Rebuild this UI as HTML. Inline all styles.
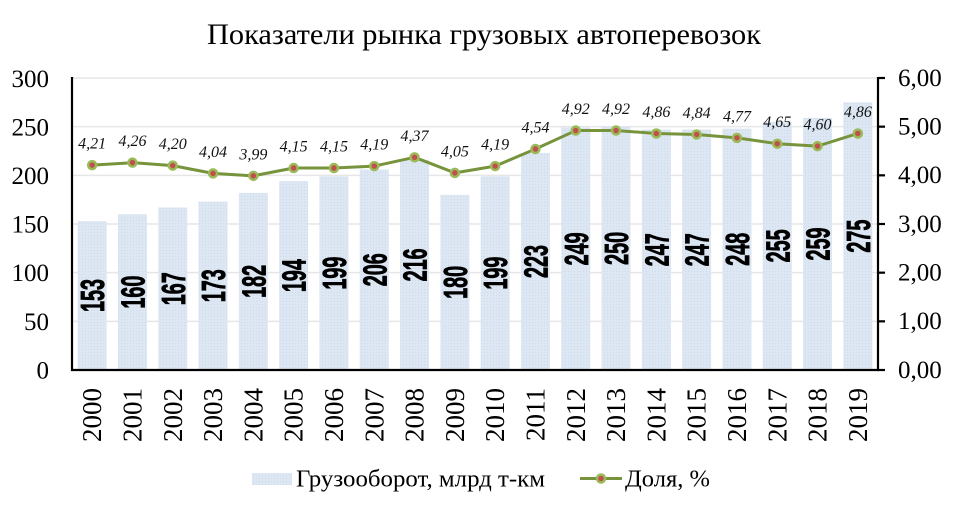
<!DOCTYPE html>
<html><head><meta charset="utf-8"><style>
html,body{margin:0;padding:0;background:#fff;}
svg{display:block;}
</style></head><body>
<svg width="956" height="511" viewBox="0 0 956 511" xmlns="http://www.w3.org/2000/svg">
<defs>
<pattern id="dots" width="3" height="3" patternUnits="userSpaceOnUse">
<rect width="3" height="3" fill="#dde7f3"/>
<rect x="1" y="1" width="1" height="1" fill="#cfdbe9"/>
</pattern>
</defs>
<rect width="956" height="511" fill="#fff"/>
<text x="207" y="44" font-family="Liberation Serif, serif" font-size="30" textLength="554" lengthAdjust="spacingAndGlyphs" fill="#000">Показатели рынка грузовых автоперевозок</text>

<!-- gridlines -->
<g stroke="#e6e6e6" stroke-width="1.5">
<line x1="72" y1="78" x2="878" y2="78"/>
<line x1="72" y1="126.67" x2="878" y2="126.67"/>
<line x1="72" y1="175.33" x2="878" y2="175.33"/>
<line x1="72" y1="224" x2="878" y2="224"/>
<line x1="72" y1="272.67" x2="878" y2="272.67"/>
<line x1="72" y1="321.33" x2="878" y2="321.33"/>
</g>

<!-- bars -->
<g fill="url(#dots)">
<rect x="77.65" y="221.08" width="29" height="148.92"/>
<rect x="117.95" y="214.27" width="29" height="155.73"/>
<rect x="158.25" y="207.45" width="29" height="162.55"/>
<rect x="198.55" y="201.61" width="29" height="168.39"/>
<rect x="238.85" y="192.85" width="29" height="177.15"/>
<rect x="279.15" y="181.17" width="29" height="188.83"/>
<rect x="319.45" y="176.31" width="29" height="193.69"/>
<rect x="359.75" y="169.49" width="29" height="200.51"/>
<rect x="400.05" y="159.76" width="29" height="210.24"/>
<rect x="440.35" y="194.8" width="29" height="175.2"/>
<rect x="480.65" y="176.31" width="29" height="193.69"/>
<rect x="520.95" y="152.95" width="29" height="217.05"/>
<rect x="561.25" y="127.64" width="29" height="242.36"/>
<rect x="601.55" y="126.67" width="29" height="243.33"/>
<rect x="641.85" y="129.59" width="29" height="240.41"/>
<rect x="682.15" y="129.59" width="29" height="240.41"/>
<rect x="722.45" y="128.61" width="29" height="241.39"/>
<rect x="762.75" y="121.8" width="29" height="248.2"/>
<rect x="803.05" y="117.91" width="29" height="252.09"/>
<rect x="843.35" y="102.33" width="29" height="267.67"/>
</g>

<!-- bar labels -->
<g font-family="Liberation Sans, Arial, sans-serif" font-weight="bold" font-size="33" fill="#000" stroke="#000" stroke-width="0.9" text-anchor="middle">
<text transform="translate(104.15,295.54) rotate(-90)" textLength="33" lengthAdjust="spacingAndGlyphs">153</text>
<text transform="translate(144.45,292.13) rotate(-90)" textLength="33" lengthAdjust="spacingAndGlyphs">160</text>
<text transform="translate(184.75,288.73) rotate(-90)" textLength="33" lengthAdjust="spacingAndGlyphs">167</text>
<text transform="translate(225.05,285.8) rotate(-90)" textLength="33" lengthAdjust="spacingAndGlyphs">173</text>
<text transform="translate(265.35,281.43) rotate(-90)" textLength="33" lengthAdjust="spacingAndGlyphs">182</text>
<text transform="translate(305.65,275.58) rotate(-90)" textLength="33" lengthAdjust="spacingAndGlyphs">194</text>
<text transform="translate(345.95,273.15) rotate(-90)" textLength="33" lengthAdjust="spacingAndGlyphs">199</text>
<text transform="translate(386.25,269.75) rotate(-90)" textLength="33" lengthAdjust="spacingAndGlyphs">206</text>
<text transform="translate(426.55,264.88) rotate(-90)" textLength="33" lengthAdjust="spacingAndGlyphs">216</text>
<text transform="translate(466.85,282.4) rotate(-90)" textLength="33" lengthAdjust="spacingAndGlyphs">180</text>
<text transform="translate(507.15,273.15) rotate(-90)" textLength="33" lengthAdjust="spacingAndGlyphs">199</text>
<text transform="translate(547.45,261.48) rotate(-90)" textLength="33" lengthAdjust="spacingAndGlyphs">223</text>
<text transform="translate(587.75,248.82) rotate(-90)" textLength="33" lengthAdjust="spacingAndGlyphs">249</text>
<text transform="translate(628.05,248.33) rotate(-90)" textLength="33" lengthAdjust="spacingAndGlyphs">250</text>
<text transform="translate(668.35,249.8) rotate(-90)" textLength="33" lengthAdjust="spacingAndGlyphs">247</text>
<text transform="translate(708.65,249.8) rotate(-90)" textLength="33" lengthAdjust="spacingAndGlyphs">247</text>
<text transform="translate(748.95,249.3) rotate(-90)" textLength="33" lengthAdjust="spacingAndGlyphs">248</text>
<text transform="translate(789.25,245.9) rotate(-90)" textLength="33" lengthAdjust="spacingAndGlyphs">255</text>
<text transform="translate(829.55,243.95) rotate(-90)" textLength="33" lengthAdjust="spacingAndGlyphs">259</text>
<text transform="translate(869.85,236.17) rotate(-90)" textLength="33" lengthAdjust="spacingAndGlyphs">275</text>
</g>

<!-- axes -->
<g stroke="#000" stroke-width="2.2" fill="none">
<line x1="72" y1="77" x2="72" y2="371"/>
<line x1="71" y1="370" x2="879" y2="370"/>
<line x1="878" y1="77" x2="878" y2="371"/>
<line x1="878" y1="78" x2="885" y2="78"/>
<line x1="878" y1="126.67" x2="885" y2="126.67"/>
<line x1="878" y1="175.33" x2="885" y2="175.33"/>
<line x1="878" y1="224" x2="885" y2="224"/>
<line x1="878" y1="272.67" x2="885" y2="272.67"/>
<line x1="878" y1="321.33" x2="885" y2="321.33"/>
<line x1="878" y1="370" x2="885" y2="370"/>
</g>

<!-- left labels -->
<g font-family="Liberation Serif, serif" font-size="25" fill="#000" text-anchor="end">
<text x="49" y="87">300</text>
<text x="49" y="135.5">250</text>
<text x="49" y="184">200</text>
<text x="49" y="232.5">150</text>
<text x="49" y="281">100</text>
<text x="49" y="330">50</text>
<text x="49" y="378.5">0</text>
</g>
<!-- right labels -->
<g font-family="Liberation Serif, serif" font-size="25" fill="#000" text-anchor="start">
<text x="898" y="86">6,00</text>
<text x="898" y="134.5">5,00</text>
<text x="898" y="183">4,00</text>
<text x="898" y="232">3,00</text>
<text x="898" y="280.5">2,00</text>
<text x="898" y="329">1,00</text>
<text x="898" y="378">0,00</text>
</g>

<!-- year labels -->
<g font-family="Liberation Serif, serif" font-size="27" fill="#000" text-anchor="end">
<text transform="translate(101.15,388) rotate(-90)">2000</text>
<text transform="translate(141.45,388) rotate(-90)">2001</text>
<text transform="translate(181.75,388) rotate(-90)">2002</text>
<text transform="translate(222.05,388) rotate(-90)">2003</text>
<text transform="translate(262.35,388) rotate(-90)">2004</text>
<text transform="translate(302.65,388) rotate(-90)">2005</text>
<text transform="translate(342.95,388) rotate(-90)">2006</text>
<text transform="translate(383.25,388) rotate(-90)">2007</text>
<text transform="translate(423.55,388) rotate(-90)">2008</text>
<text transform="translate(463.85,388) rotate(-90)">2009</text>
<text transform="translate(504.15,388) rotate(-90)">2010</text>
<text transform="translate(544.45,388) rotate(-90)">2011</text>
<text transform="translate(584.75,388) rotate(-90)">2012</text>
<text transform="translate(625.05,388) rotate(-90)">2013</text>
<text transform="translate(665.35,388) rotate(-90)">2014</text>
<text transform="translate(705.65,388) rotate(-90)">2015</text>
<text transform="translate(745.95,388) rotate(-90)">2016</text>
<text transform="translate(786.25,388) rotate(-90)">2017</text>
<text transform="translate(826.55,388) rotate(-90)">2018</text>
<text transform="translate(866.85,388) rotate(-90)">2019</text>
</g>

<!-- line -->
<polyline fill="none" stroke="#77933c" stroke-width="3" stroke-linejoin="round" points="92.15,165.11 132.45,162.68 172.75,165.6 213.05,173.39 253.35,175.82 293.65,168.03 333.95,168.03 374.25,166.09 414.55,157.33 454.85,172.9 495.15,166.09 535.45,149.05 575.75,130.56 616.05,130.56 656.35,133.48 696.65,134.45 736.95,137.86 777.25,143.7 817.55,146.13 857.85,133.48"/>
<g fill="#c0504d" stroke="#9bbb59" stroke-width="2.5">
<circle cx="92.15" cy="165.11" r="4"/>
<circle cx="132.45" cy="162.68" r="4"/>
<circle cx="172.75" cy="165.6" r="4"/>
<circle cx="213.05" cy="173.39" r="4"/>
<circle cx="253.35" cy="175.82" r="4"/>
<circle cx="293.65" cy="168.03" r="4"/>
<circle cx="333.95" cy="168.03" r="4"/>
<circle cx="374.25" cy="166.09" r="4"/>
<circle cx="414.55" cy="157.33" r="4"/>
<circle cx="454.85" cy="172.9" r="4"/>
<circle cx="495.15" cy="166.09" r="4"/>
<circle cx="535.45" cy="149.05" r="4"/>
<circle cx="575.75" cy="130.56" r="4"/>
<circle cx="616.05" cy="130.56" r="4"/>
<circle cx="656.35" cy="133.48" r="4"/>
<circle cx="696.65" cy="134.45" r="4"/>
<circle cx="736.95" cy="137.86" r="4"/>
<circle cx="777.25" cy="143.7" r="4"/>
<circle cx="817.55" cy="146.13" r="4"/>
<circle cx="857.85" cy="133.48" r="4"/>
</g>

<!-- line data labels -->
<g font-family="Liberation Serif, serif" font-style="italic" font-size="16" fill="#111" text-anchor="middle">
<text x="92.15" y="148.6">4,21</text>
<text x="132.45" y="146.2">4,26</text>
<text x="172.75" y="149.1">4,20</text>
<text x="213.05" y="156.9">4,04</text>
<text x="253.35" y="159.3">3,99</text>
<text x="293.65" y="151.5">4,15</text>
<text x="333.95" y="151.5">4,15</text>
<text x="374.25" y="149.6">4,19</text>
<text x="414.55" y="140.8">4,37</text>
<text x="454.85" y="156.4">4,05</text>
<text x="495.15" y="149.6">4,19</text>
<text x="535.45" y="132.5">4,54</text>
<text x="575.75" y="114">4,92</text>
<text x="616.05" y="114">4,92</text>
<text x="656.35" y="117">4,86</text>
<text x="696.65" y="118">4,84</text>
<text x="736.95" y="121.4">4,77</text>
<text x="777.25" y="127.2">4,65</text>
<text x="817.55" y="129.6">4,60</text>
<text x="857.85" y="117">4,86</text>
</g>

<!-- legend -->
<rect x="252" y="473" width="40" height="12" fill="url(#dots)"/>
<text x="296" y="486.5" font-family="Liberation Serif, serif" font-size="24" textLength="249" lengthAdjust="spacingAndGlyphs" fill="#000">Грузооборот, млрд т-км</text>
<line x1="580" y1="478.5" x2="622" y2="478.5" stroke="#77933c" stroke-width="3"/>
<circle cx="601" cy="478.5" r="4" fill="#c0504d" stroke="#9bbb59" stroke-width="2.5"/>
<text x="625" y="486.5" font-family="Liberation Serif, serif" font-size="24" textLength="85" lengthAdjust="spacingAndGlyphs" fill="#000">Доля, %</text>
</svg>
</body></html>
